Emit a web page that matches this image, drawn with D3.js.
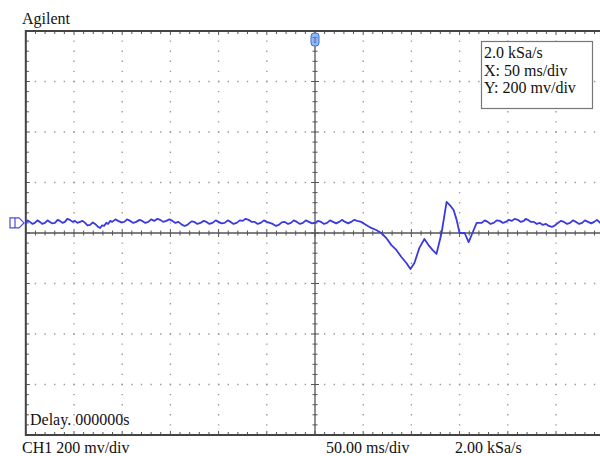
<!DOCTYPE html>
<html>
<head>
<meta charset="utf-8">
<script src="https://cdn.jsdelivr.net/npm/d3@7"></script>
<style>
  body { margin: 0; background: #fff; }
  svg text { font-family: "Liberation Serif", "Times New Roman", serif; fill: #111; }
</style>
</head>
<body>
<svg width="600" height="456"></svg>
<script>
(function () {

    // time in ms (0 = trigger, centre of screen), voltage in mV
    var timeMs = [
        -300, -298, -295.8, -293, -290.6, -288, -285.4, -283, -280.2, -277.5,
        -275, -272.5, -269.8, -267, -264.6, -262, -259.4, -257, -254.2, -251.5,
        -249, -246.5, -243.8, -241, -238.5, -236, -233.3, -230.5, -228.1, -225.5,
        -222.9, -221, -218.8, -216.5, -214.6, -212.5, -210.4, -207, -204.2, -201,
        -197.9, -195, -191.7, -188.5, -185.4, -182, -179.2, -176, -172.9, -170,
        -166.7, -163.5, -160.4, -157.5, -154.2, -151, -147.9, -145, -141.7, -138.5,
        -135.4, -133.5, -131.3, -128, -125, -122, -118.8, -115.5, -112.5, -109.5,
        -106.3, -103, -100, -97, -93.8, -90.5, -87.5, -84.5, -81.3, -78,
        -75, -72, -68.8, -65.5, -62.5, -59.5, -56.3, -53, -50, -47,
        -43.8, -40.5, -37.5, -34.5, -31.3, -28, -25, -22, -18.8, -15.5,
        -12.5, -9.5, -6.3, -3, 0, 3, 6.3, 9.5, 12.5, 15.5,
        18.8, 22, 25, 28, 31.3, 34.5, 37.5, 40.5, 43.8,
        47.9, 53.1, 58.3, 63.5, 68.8, 74, 79.2, 84.4, 89.6, 94.8,
        99, 103.1, 108.3, 113.5, 117.7, 121.9, 126, 131.3, 136.5, 140.6,
        143.8, 146.9, 150, 155.2, 159.4, 164.6, 167.7, 172.9,
        176, 179.2, 182, 185.4, 188.5, 191.7, 195, 197.9, 201, 204.2,
        207, 210.4, 213.5, 216.7, 218.5, 220.8, 224, 227.1, 230, 233.3,
        236.5, 239.6, 242.5, 245.8, 249, 252.1, 255, 258.3, 261.5, 264.6,
        267.5, 270.8, 274, 277.1, 280, 283.3, 286.5, 289.6, 292.5, 295.8, 297.9
    ];
    var voltMv = [
        40, 50, 44, 36, 40, 50, 44, 36, 40, 50,
        44, 38, 40, 52, 48, 40, 44, 56, 52, 44,
        48, 40, 44, 48, 40, 30, 32, 42, 36, 26,
        20, 30, 28, 40, 36, 48, 44, 54, 48, 42,
        44, 54, 48, 40, 44, 52, 48, 40, 44, 54,
        48, 56, 52, 44, 48, 54, 48, 40, 44, 34,
        28, 30, 36, 46, 44, 36, 40, 48, 44, 36,
        40, 50, 44, 38, 40, 50, 44, 36, 40, 50,
        48, 56, 52, 44, 44, 36, 40, 50, 44, 40,
        36, 28, 32, 42, 44, 36, 40, 50, 44, 36,
        40, 50, 44, 38, 40, 48, 44, 36, 40, 50,
        44, 38, 44, 52, 44, 38, 44, 52, 48,
        44, 32, 20, 12, 0, -20, -48, -67, -95, -119,
        -143, -119, -59, -24, -48, -67, -83, 0, 123, 107,
        91, 52, 0, 0, -36, 12, 40, 40,
        50, 44, 36, 40, 50, 48, 40, 44, 52, 48,
        56, 52, 44, 48, 56, 52, 44, 44, 36, 40,
        32, 36, 28, 24, 30, 40, 48, 44, 36, 40,
        50, 44, 36, 40, 50, 44, 38, 44, 52, 40, 44
    ];

    var infoLines = ["2.0 kSa/s", "X: 50 ms/div", "Y: 200 mv/div"];
    var xDivs = d3.range(-300, 301, 50);
    var yDivs = d3.range(-800, 801, 200);

    var svg = d3.select("svg");

    var x = d3.scaleLinear().domain([-300, 300]).range([25.8, 604.2]);
    var y = d3.scaleLinear().domain([-800, 800]).range([435, 31]);

    var gridColor = "#9a9a9a", axisColor = "#555";

    // dotted division grid
    svg.append("g").selectAll("line")
        .data(xDivs.filter(d => d != 0 && d != -300))
        .enter().append("line")
        .attr("x1", d => x(d)).attr("x2", d => x(d))
        .attr("y1", y(800)).attr("y2", y(-800))
        .attr("stroke", gridColor).attr("stroke-width", 1.4)
        .attr("stroke-dasharray", "1.4," + ((y(-800) - y(800)) / 40 - 1.4))
        .attr("stroke-dashoffset", 0.7);

    svg.append("g").selectAll("line")
        .data(yDivs.filter(d => d != 0 && Math.abs(d) != 800))
        .enter().append("line")
        .attr("y1", d => y(d)).attr("y2", d => y(d))
        .attr("x1", x(-300)).attr("x2", 600)
        .attr("stroke", gridColor).attr("stroke-width", 1.4)
        .attr("stroke-dasharray", "1.4," + ((x(300) - x(-300)) / 60 - 1.4))
        .attr("stroke-dashoffset", 0.7);

    // centre axes with minor ticks
    var axes = svg.append("g").attr("stroke", axisColor);
    axes.append("line").attr("x1", x(-300)).attr("x2", 600)
        .attr("y1", y(0)).attr("y2", y(0)).attr("stroke-width", 1.3);
    axes.append("line").attr("x1", x(0)).attr("x2", x(0))
        .attr("y1", y(800)).attr("y2", y(-800)).attr("stroke-width", 1.3);

    var xMinor = d3.range(-300, 301, 10);
    var yMinor = d3.range(-800, 801, 40);

    axes.selectAll(".xt").data(xMinor).enter().append("line")
        .attr("class", "xt")
        .attr("x1", d => x(d)).attr("x2", d => x(d))
        .attr("y1", d => y(0) - (d % 50 == 0 ? 4 : 2.5))
        .attr("y2", d => y(0) + (d % 50 == 0 ? 4 : 2.5));
    axes.selectAll(".yt").data(yMinor).enter().append("line")
        .attr("class", "yt")
        .attr("y1", d => y(d)).attr("y2", d => y(d))
        .attr("x1", d => x(0) - (d % 200 == 0 ? 4 : 2.5))
        .attr("x2", d => x(0) + (d % 200 == 0 ? 4 : 2.5));

    // ticks on the frame
    axes.selectAll(".tt").data(xMinor).enter().append("line")
        .attr("class", "tt")
        .attr("x1", d => x(d)).attr("x2", d => x(d))
        .attr("y1", y(800)).attr("y2", d => y(800) + (d % 50 == 0 ? 4 : 3));
    axes.selectAll(".bt").data(xMinor).enter().append("line")
        .attr("class", "bt")
        .attr("x1", d => x(d)).attr("x2", d => x(d))
        .attr("y1", y(-800)).attr("y2", d => y(-800) - (d % 50 == 0 ? 4 : 3));
    axes.selectAll(".lt").data(yMinor).enter().append("line")
        .attr("class", "lt")
        .attr("y1", d => y(d)).attr("y2", d => y(d))
        .attr("x1", x(-300)).attr("x2", d => x(-300) + (d % 200 == 0 ? 4 : 3));

    // frame (right side runs off the picture)
    svg.append("path")
        .attr("d", "M600," + y(800) + "H" + x(-300) + "V" + y(-800) + "H600")
        .attr("fill", "none").attr("stroke", "#444").attr("stroke-width", 2);

    // trace
    var pts = timeMs.map((t, i) => [t, voltMv[i]]);
    var line = d3.line().x(d => x(d[0])).y(d => y(d[1]));
    svg.append("path")
        .datum(pts)
        .attr("d", line)
        .attr("fill", "none")
        .attr("stroke", "#3a3ae0")
        .attr("stroke-width", 1.8)
        .attr("stroke-linejoin", "round");

    // trigger marker on top
    var tx = x(0), ty = y(800);
    svg.append("rect")
        .attr("x", tx - 4).attr("y", ty + 2).attr("width", 8).attr("height", 13)
        .attr("rx", 3).attr("fill", "#8fb8f0").attr("stroke", "#3a6fd8").attr("stroke-width", 1);
    svg.append("text").attr("x", tx).attr("y", ty + 12).attr("text-anchor", "middle")
        .attr("font-size", 8).style("fill", "#1d4fb8").text("T");

    // ground marker at left
    var gy = y(40);
    svg.append("path")
        .attr("d", "M10," + (gy - 5) + "H19L24," + gy + "L19," + (gy + 5) + "H10Z M15," + (gy - 5) + "V" + (gy + 5))
        .attr("fill", "none").attr("stroke", "#4a4ae0").attr("stroke-width", 1.2);

    // info box
    svg.append("rect")
        .attr("x", 481.5).attr("y", 41.5).attr("width", 111).attr("height", 67)
        .attr("fill", "#fff").attr("stroke", "#777").attr("stroke-width", 1.2);
    svg.append("g").selectAll("text").data(infoLines).enter().append("text")
        .attr("x", 484).attr("y", (d, i) => 58 + i * 17.5)
        .attr("font-size", 16).text(d => d);

    svg.append("text").attr("x", 22).attr("y", 24).attr("font-size", 16).text("Agilent");
    svg.append("text").attr("x", 30).attr("y", 425).attr("font-size", 16).text("Delay. 000000s");
    svg.append("text").attr("x", 22).attr("y", 453).attr("font-size", 16).text("CH1 200 mv/div");
    svg.append("text").attr("x", 326).attr("y", 453).attr("font-size", 16).text("50.00 ms/div");
    svg.append("text").attr("x", 455).attr("y", 453).attr("font-size", 16).text("2.00 kSa/s");

})();
</script>
</body>
</html>
